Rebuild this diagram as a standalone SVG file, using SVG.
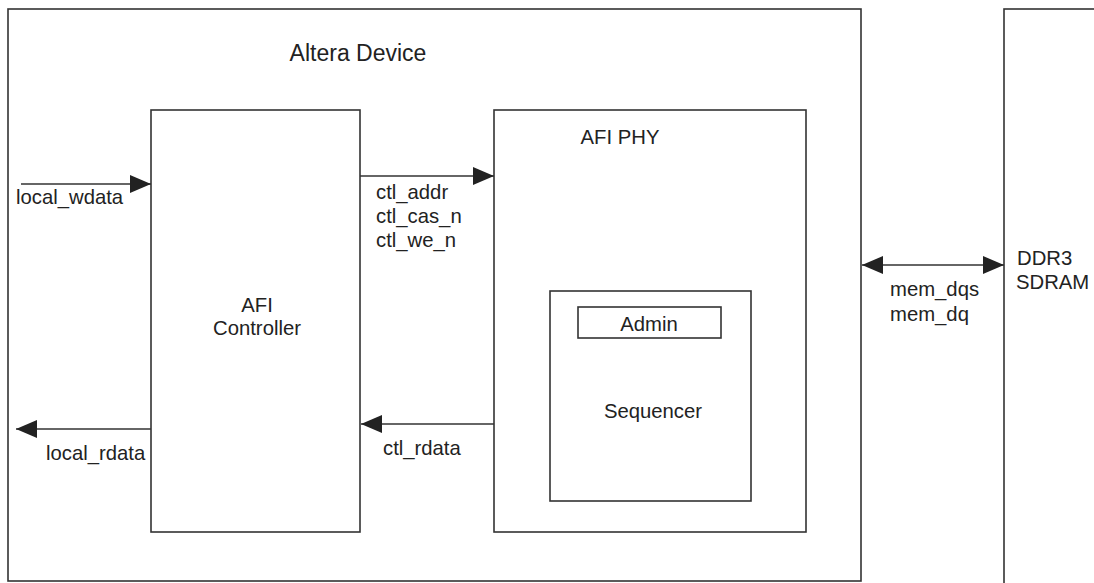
<svg xmlns="http://www.w3.org/2000/svg" width="1094" height="583" viewBox="0 0 1094 583">
<style>
.box{fill:none;stroke:#333;stroke-width:1.6}
.lbl{font-family:"Liberation Sans",Arial,sans-serif;font-size:20.3px;fill:#222}
.mid{text-anchor:middle}
.conn{stroke:#333;stroke-width:1.6;fill:none}
</style>
<defs>
<marker id="ah" markerUnits="userSpaceOnUse" markerWidth="22" markerHeight="18" refX="21" refY="9" orient="auto-start-reverse">
<path d="M0,0 L21,9 L0,18 Z" fill="#222"/>
</marker>
</defs>
<rect width="1094" height="583" fill="#fff"/>
<g id="altera-device">
<rect class="box" x="8" y="9" width="853" height="572"/>
<text class="lbl mid" x="358" y="61" style="font-size:23px">Altera Device</text>
</g>
<g id="afi-controller">
<rect class="box" x="151" y="110" width="209" height="422"/>
<text class="lbl mid" x="257" y="312">AFI</text>
<text class="lbl mid" x="257" y="335">Controller</text>
</g>
<g id="afi-phy">
<rect class="box" x="494" y="110" width="312" height="422"/>
<text class="lbl mid" x="620" y="144">AFI PHY</text>
</g>
<g id="sequencer">
<rect class="box" x="550" y="291" width="201" height="210"/>
<text class="lbl mid" x="653" y="418">Sequencer</text>
</g>
<g id="admin">
<rect class="box" x="578" y="307" width="143" height="31"/>
<text class="lbl mid" x="649" y="331">Admin</text>
</g>
<g id="ddr3-sdram">
<rect class="box" x="1004" y="9" width="100" height="590"/>
<text class="lbl" x="1017" y="265">DDR3</text>
<text class="lbl" x="1016" y="289">SDRAM</text>
</g>
<g id="connectors">
<line class="conn" x1="21" y1="184" x2="151" y2="184" marker-end="url(#ah)"/>
<line class="conn" x1="151" y1="429" x2="16" y2="429" marker-end="url(#ah)"/>
<line class="conn" x1="360" y1="176" x2="494" y2="176" marker-end="url(#ah)"/>
<line class="conn" x1="494" y1="424" x2="361" y2="424" marker-end="url(#ah)"/>
<line class="conn" x1="862" y1="265" x2="1004" y2="265" marker-start="url(#ah)" marker-end="url(#ah)"/>
<text class="lbl" x="16" y="204">local_wdata</text>
<text class="lbl" x="46" y="460">local_rdata</text>
<text class="lbl" x="376" y="199">ctl_addr</text>
<text class="lbl" x="376" y="223">ctl_cas_n</text>
<text class="lbl" x="376" y="247">ctl_we_n</text>
<text class="lbl" x="383" y="455">ctl_rdata</text>
<text class="lbl" x="890" y="296">mem_dqs</text>
<text class="lbl" x="890" y="321">mem_dq</text>
</g>
</svg>
